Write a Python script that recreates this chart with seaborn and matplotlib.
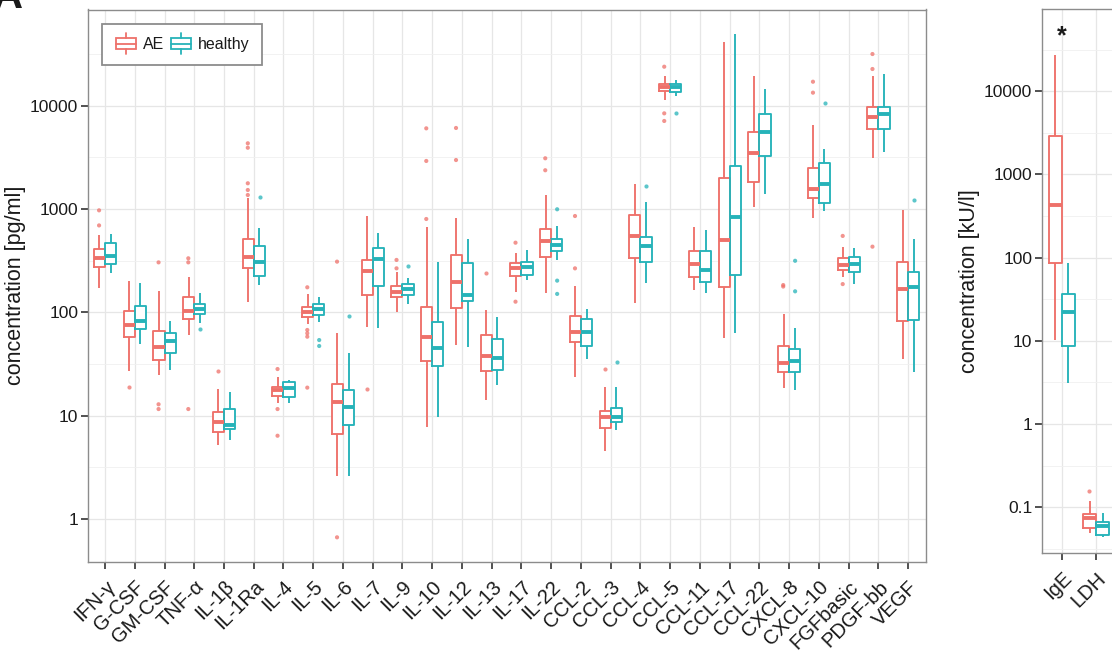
import numpy as np
import pandas as pd
import matplotlib
matplotlib.use("Agg")
import matplotlib.pyplot as plt
import matplotlib.transforms as mtransforms
import seaborn as sns
from matplotlib.ticker import FixedLocator, FuncFormatter, NullFormatter
from matplotlib.patches import Rectangle, Patch
from matplotlib.lines import Line2D
from matplotlib.legend_handler import HandlerBase

# ---------------- data ----------------
cytokines = ["IFN-γ", "G-CSF", "GM-CSF", "TNF-α", "IL-1β", "IL-1Ra", "IL-4", "IL-5",
             "IL-6", "IL-7", "IL-9", "IL-10", "IL-12", "IL-13", "IL-17", "IL-22",
             "CCL-2", "CCL-3", "CCL-4", "CCL-5", "CCL-11", "CCL-17", "CCL-22",
             "CXCL-8", "CXCL-10", "FGFbasic", "PDGF-bb", "VEGF"]
groups = ["AE", "healthy"]

# AE: whisker low, Q1, median, Q3, whisker high
ae_low = [171, 27.1, 24.8, 60.4, 5.2, 127, 13.2, 78, 2.6, 72, 101.6, 7.7, 48.3, 14.2,
          158, 153, 23.5, 4.55, 124, 11380, 165, 56.1, 1055, 18.4, 815, 222, 3147, 35.2]
ae_q1 = [277, 57.4, 34.6, 86.3, 7.0, 271, 15.5, 90.8, 6.65, 149, 140, 34.0, 110, 27.1,
         225, 341, 51.4, 7.6, 334, 13900, 222, 175, 1842, 26.3, 1273, 257, 5930, 83.2]
ae_med = [334, 76, 46.6, 104, 8.6, 341, 17.7, 101.6, 13.5, 252, 158, 58.2, 198, 38.1,
          267, 491, 65, 9.8, 552, 15100, 292, 502, 3513, 32.1, 1566, 288, 7745, 167]
ae_q3 = [408, 104, 66, 140, 10.8, 517, 18.8, 112, 20.3, 322, 180, 113.6, 359, 60.4,
         299, 642, 92.3, 11.2, 877, 16250, 396, 1986, 5540, 47.3, 2518, 334, 9660, 305]
ae_high = [557, 203, 161, 222, 18.0, 1273, 23.5, 151, 63.6, 857, 248, 676, 815, 105.5,
           378, 1369, 180, 19.1, 1750, 19530, 676, 41200, 19530, 96.5, 6520, 427, 19530, 980]
ae_outliers = [[973, 695], [19.0], [305, 12.9, 11.6], [334, 305, 11.6], [27.1],
               [4335, 3927, 1778, 1531, 1369], [28.3, 11.6, 6.4],
               [175, 67.6, 62.8, 58.2, 18.7], [310, 0.665], [18.0], [322, 267],
               [6050, 2924, 802], [6100, 2985], [239], [473, 127], [3104, 2377],
               [857, 267], [28.3], [], [23900, 8450, 7130], [], [], [], [184, 178],
               [17100, 13400], [550, 188], [31700, 22700, 433], []]

# healthy
he_low = [239, 49.1, 27.7, 78.4, 5.8, 184, 13.2, 81.2, 2.6, 71, 120, 9.8, 46.6, 19.8,
          206, 322, 35.2, 7.3, 193, 12450, 153, 62.8, 1390, 17.7, 959, 188, 3594, 26.3]
he_q1 = [294, 68.6, 40.7, 96.5, 7.4, 227, 15.3, 94.5, 8.1, 180, 147, 30.5, 129, 27.7,
         230, 396, 47.3, 8.6, 305, 13700, 198, 230, 3287, 26.2, 1153, 244, 5930, 84.4]
he_med = [354, 83, 53.2, 108, 8.1, 305, 18.7, 107, 12.2, 329, 167, 44.9, 147, 36.0,
          277, 449, 65, 9.8, 443, 15100, 257, 844, 5540, 33.8, 1750, 294, 8270, 175]
he_q3 = [467, 116, 62.8, 120.5, 11.7, 439, 21.2, 120.5, 17.7, 423, 188, 80.2, 299, 54.9,
         310, 517, 86.3, 11.9, 533, 16150, 396, 2612, 8330, 44, 2776, 341, 9800, 244]
he_high = [574, 191, 83, 155, 16.9, 652, 22.2, 140, 40.2, 583, 214, 310, 510, 90.8,
           402, 690, 108, 19.1, 1180, 17780, 628, 49200, 14550, 70.2, 3794, 423, 20300, 510]
he_outliers = [[], [], [], [68.6], [], [1300], [], [54, 47.3], [92.3], [], [281], [], [],
               [], [], [996, 203, 151], [], [33.1], [1686], [8450], [], [], [],
               [316, 160], [10720], [], [], [1225]]

# second panel (clinical parameters)
lab_params = ["IgE", "LDH"]
lab_ae_low = [10.2, 0.0486]
lab_ae_q1 = [85.4, 0.0558]
lab_ae_med = [429, 0.0736]
lab_ae_q3 = [2918, 0.0828]
lab_ae_high = [27200, 0.12]
lab_ae_outliers = [[], [0.158]]
lab_he_low = [3.1, 0.0443]
lab_he_q1 = [8.7, 0.0463]
lab_he_med = [22.4, 0.060]
lab_he_q3 = [36.2, 0.067]
lab_he_high = [85.4, 0.086]
lab_he_outliers = [[], []]
lab_significance = ["*", ""]

left_ticks = [1, 10, 100, 1000, 10000]
right_ticks = [0.1, 1, 10, 100, 1000, 10000]

palette = {"AE": "#EE716A", "healthy": "#26B3B9"}


def box_frame(cats, stats):
    rows = []
    for g, cols in stats.items():
        for i, c in enumerate(cats):
            for arr in cols:
                rows.append((c, g, arr[i]))
    return pd.DataFrame(rows, columns=["analyte", "group", "value"])


def outlier_frame(cats, outs):
    rows = []
    for g, lists in outs.items():
        for c, vals in zip(cats, lists):
            for v in vals:
                rows.append((c, g, v))
    return pd.DataFrame(rows, columns=["analyte", "group", "value"])


box1 = box_frame(cytokines, {"AE": [ae_low, ae_q1, ae_med, ae_q3, ae_high],
                             "healthy": [he_low, he_q1, he_med, he_q3, he_high]})
out1 = outlier_frame(cytokines, {"AE": ae_outliers, "healthy": he_outliers})
box2 = box_frame(lab_params, {"AE": [lab_ae_low, lab_ae_q1, lab_ae_med, lab_ae_q3, lab_ae_high],
                              "healthy": [lab_he_low, lab_he_q1, lab_he_med, lab_he_q3, lab_he_high]})
out2 = outlier_frame(lab_params, {"AE": lab_ae_outliers, "healthy": lab_he_outliers})

# ---------------- style ----------------
sns.set_theme(style="whitegrid")
plt.rcParams["font.family"] = ["Liberation Sans", "DejaVu Sans"]

W, H = 1112, 653
fig = plt.figure(figsize=(W / 100, H / 100), dpi=100)
fig.patch.set_facecolor("white")

ax1 = fig.add_axes([88 / W, (H - 562) / H, (926 - 88) / W, (562 - 9.5) / H])
ax2 = fig.add_axes([1042 / W, (H - 553.3) / H, 144 / W, (553.3 - 9) / H])


def draw_panel(ax, cats, bdf, odf, ylim, ticks, xlim, ylabel):
    ax.set_yscale("log")
    common = dict(data=bdf, x="analyte", y="value", hue="group", order=cats,
                  hue_order=groups, whis=(0, 100), showfliers=False, width=0.75,
                  gap=0, legend=False, ax=ax, capwidths=0)
    sns.boxplot(**common, fill=True, palette={g: "white" for g in groups},
                linecolor="white", linewidth=0)
    sns.boxplot(**common, fill=False, palette=palette, linewidth=1.35,
                medianprops=dict(linewidth=2.8))
    if len(odf):
        sns.stripplot(data=odf, x="analyte", y="value", hue="group", order=cats,
                      hue_order=groups, dodge=True, jitter=False, palette=palette,
                      size=3.0, linewidth=0, alpha=0.75, legend=False, ax=ax, zorder=4)
    ax.set_xlim(*xlim)
    ax.set_ylim(*ylim)
    ax.yaxis.set_major_locator(FixedLocator(ticks))
    ax.yaxis.set_major_formatter(FuncFormatter(lambda v, p: f"{v:g}"))
    lo, hi = np.floor(np.log10(ylim[0])), np.ceil(np.log10(ylim[1]))
    minors = [10 ** (k + 0.5) for k in np.arange(lo - 1, hi + 1)]
    ax.yaxis.set_minor_locator(FixedLocator(minors))
    ax.yaxis.set_minor_formatter(NullFormatter())
    ax.set_xticks(range(len(cats)))
    ax.set_xticklabels(cats, rotation=45, ha="right", va="top",
                       rotation_mode="anchor", fontsize=14.5, color="#1A1A1A")
    ax.set_axisbelow(True)
    ax.grid(True, which="major", axis="both", color="#E6E6E6", linewidth=0.9)
    ax.yaxis.grid(True, which="minor", color="#F0F0F0", linewidth=0.6)
    ax.tick_params(axis="both", which="major", direction="out", length=5, width=1.2,
                   color="#333333", bottom=True, left=True, pad=2)
    ax.tick_params(axis="x", which="major", pad=6)
    ax.tick_params(axis="y", which="major", labelsize=12.5, labelcolor="#1A1A1A")
    ax.tick_params(axis="y", which="minor", length=0, left=False)
    for s in ax.spines.values():
        s.set_visible(True)
        s.set_color("#8C8C8C")
        s.set_linewidth(1.0)
    ax.set_facecolor("white")
    ax.set_xlabel("")
    ax.set_ylabel(ylabel, fontsize=15.5, color="#1A1A1A", labelpad=3)


draw_panel(ax1, cytokines, box1, out1, (0.3836, 85530), left_ticks, (-0.572, 27.6),
           "concentration [pg/ml]")
draw_panel(ax2, lab_params, box2, out2, (0.0279, 97300), right_ticks, (-0.575, 3.6),
           "concentration [kU/l]")

# significance marks on the clinical panel
trans = mtransforms.blended_transform_factory(ax2.transData, ax2.transAxes)
for i, s in enumerate(lab_significance):
    if s:
        ax2.text(i, 0.95, s, transform=trans, ha="center", va="center",
                 fontsize=18, fontweight="bold", color="#1A1A1A")


# legend with boxplot key glyphs
class BoxHandler(HandlerBase):
    def create_artists(self, legend, orig_handle, xdescent, ydescent, width, height,
                       fontsize, trans):
        color = orig_handle.get_edgecolor()
        x0, y0 = -xdescent + width * 0.05, -ydescent
        w, h = width * 0.9, height
        cx = x0 + w / 2
        rect = Rectangle((x0, y0), w, h, facecolor="white", edgecolor=color,
                         linewidth=1.3, transform=trans)
        med = Line2D([x0, x0 + w], [y0 + h / 2] * 2, color=color, linewidth=1.3,
                     transform=trans)
        wt = Line2D([cx, cx], [y0 + h, y0 + h * 1.4], color=color, linewidth=1.3,
                    transform=trans)
        wb = Line2D([cx, cx], [y0, y0 - h * 0.4], color=color, linewidth=1.3,
                    transform=trans)
        return [rect, med, wt, wb]


handles = [Patch(facecolor="white", edgecolor=palette[g], label=g) for g in groups]
leg = ax1.legend(handles=handles, handler_map={Patch: BoxHandler()}, ncol=2,
                 loc="upper left", bbox_to_anchor=(0.0167, 0.973), borderaxespad=0,
                 fontsize=11.5, handlelength=1.4, handleheight=0.75,
                 handletextpad=0.35, columnspacing=0.35, borderpad=0.8,
                 frameon=True, fancybox=False, framealpha=1, facecolor="white",
                 edgecolor="#8C8C8C")
leg.get_frame().set_linewidth(1.3)
for t in leg.get_texts():
    t.set_color("#1A1A1A")

# panel letter (partly outside the crop, as in the reference)
fig.text(-7 / W, 1 - 8 / H, "A", fontsize=30, fontweight="bold", ha="left",
         va="baseline", color="#1A1A1A")

fig.savefig("out.png", dpi=100, facecolor="white")
